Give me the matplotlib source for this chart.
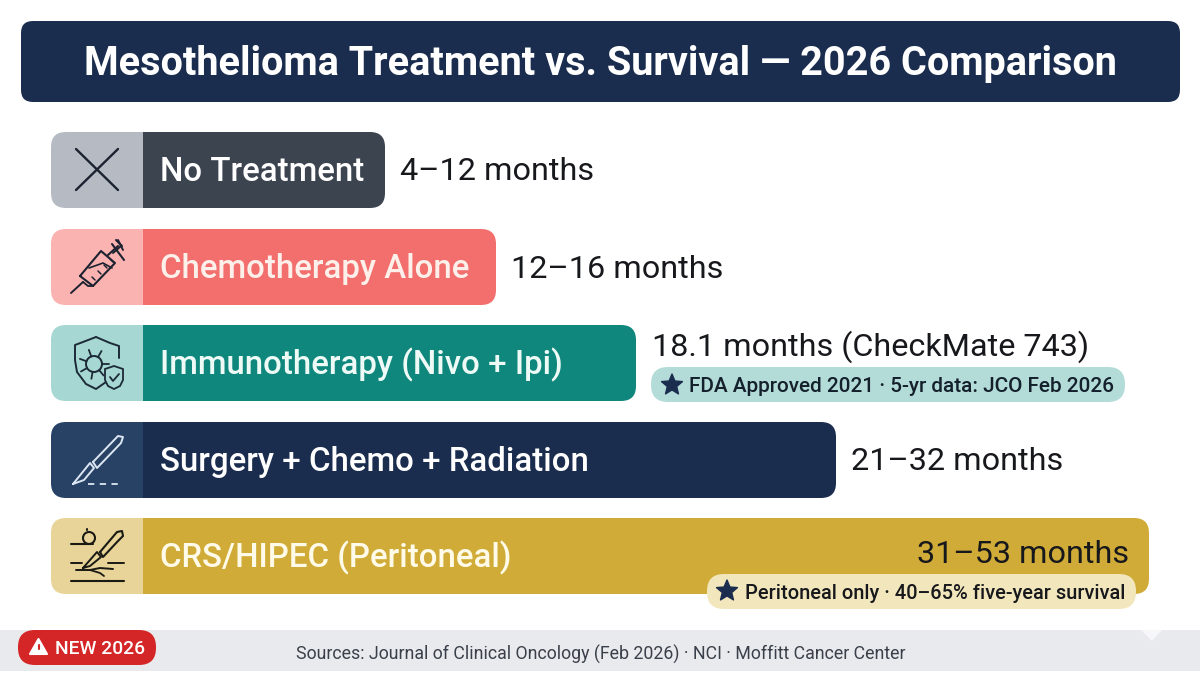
import numpy as np
import matplotlib
matplotlib.use('Agg')
import matplotlib.pyplot as plt
from matplotlib.patches import FancyBboxPatch, Rectangle, Polygon, Circle

plt.rcParams['font.family'] = ['Roboto', 'DejaVu Sans']

# treatment rows, top to bottom
treatments = ['No Treatment', 'Chemotherapy Alone', 'Immunotherapy (Nivo + Ipi)',
              'Surgery + Chemo + Radiation', 'CRS/HIPEC (Peritoneal)']
survival = ['4–12 months', '12–16 months', '18.1 months (CheckMate 743)', '21–32 months', '31–53 months']
bar_lengths = [334, 445, 585, 785, 1098]
bar_colors = ['#3c4450', '#f26f6d', '#0f877c', '#1b2d4f', '#d0ab38']
icon_colors = ['#b6bbc3', '#fbb3b1', '#a6d7d2', '#284265', '#e8d498']
label_colors = ['white', '#fdf0ea', '#eefaf6', 'white', '#fffbe8']
icon_ink = ['#1c2230', '#1c2230', '#1c2a38', '#dbe6f2', '#1a1a14']

title = 'Mesothelioma Treatment vs. Survival — 2026 Comparison'
note_imm = 'FDA Approved 2021 · 5-yr data: JCO Feb 2026'
note_crs = 'Peritoneal only · 40–65% five-year survival'
badge = 'NEW 2026'
sources = 'Sources: Journal of Clinical Oncology (Feb 2026) · NCI · Moffitt Cancer Center'

NAVY = '#1b2d4f'

fig = plt.figure(figsize=(12, 6.75), dpi=100, facecolor='white')
ax = fig.add_axes([0, 0, 1, 1])
ax.set_xlim(0, 1200)
ax.set_ylim(675, 0)
ax.axis('off')


def rbox(x0, y0, x1, y1, r, color, z=2):
    p = FancyBboxPatch((x0 + r, y0 + r), x1 - x0 - 2 * r, y1 - y0 - 2 * r,
                       boxstyle='round,pad=%g,rounding_size=%g' % (r, r),
                       fc=color, ec='none', zorder=z)
    ax.add_patch(p)
    return p


def ink(xs, ys, color, lw=1.6, z=6, **kw):
    ax.plot(xs, ys, color=color, lw=lw, zorder=z, solid_capstyle='round',
            solid_joinstyle='round', **kw)


def star(cx, cy, r, color=NAVY):
    ang = np.deg2rad(-90 + 36 * np.arange(10))
    rad = np.where(np.arange(10) % 2 == 0, r, r * 0.45)
    ax.add_patch(Polygon(np.c_[cx + rad * np.cos(ang), cy + rad * np.sin(ang)],
                         closed=True, fc=color, ec=color, lw=1, joinstyle='round', zorder=8))


def icon_cross(c):
    ink([76, 118], [149, 190], c, 1.7)
    ink([118, 76], [149, 190], c, 1.7)


def icon_syringe(c):
    ink([71, 83], [293, 282], c, 1.4)
    # barrel
    ink([80, 101, 115, 93, 80], [276, 251, 263, 286, 276], c, 1.5)
    ink([83, 88, 93], [282, 286, 286], c, 1.3)
    ink([89, 103, 112], [268, 263, 268], c, 1.2)
    for t in range(4):
        ink([92 + 6 * t, 95 + 6 * t], [277 - 6 * t, 280 - 6 * t], c, 1.1)
    # plunger
    ink([108, 118], [255, 246], c, 1.5)
    ink([112, 124], [244, 260], c, 1.5)
    ink([116, 122], [240, 246], c, 1.5)
    ink([118, 123], [240, 250], c, 1.4)
    ink([113, 121], [253, 246], c, 1.4)


def icon_shield(c):
    xs = [96, 110, 119, 119, 116, 106, 96, 86, 77, 75, 75, 83, 96]
    ys = [337, 343, 346, 358, 371, 382, 389, 384, 372, 360, 345, 342, 337]
    ink(xs[:4], ys[:4], c, 1.4)
    ink(xs[5:], ys[5:], c, 1.4)
    # virus
    ax.add_patch(Circle((94, 364), 8, fc='none', ec=c, lw=1.4, zorder=6))
    for a in np.deg2rad([0, 50, 100, 150, 200, 250, 300]):
        ink([94 + 8 * np.cos(a), 94 + 15 * np.cos(a)], [364 + 8 * np.sin(a), 364 + 15 * np.sin(a)], c, 1.3)
    # small shield with tick
    sx = [114, 123, 123, 120, 114, 108, 105, 105, 114]
    sy = [366, 369, 380, 386, 389, 386, 380, 369, 366]
    ax.add_patch(Polygon(np.c_[sx, sy], closed=True, fc=icon_colors[2], ec=c, lw=1.3, zorder=7))
    ink([110, 113, 119], [377, 381, 374], c, 1.3, z=8)


def icon_scalpel(c):
    ink([73, 90, 94, 84, 73], [484, 463, 468, 480, 484], c, 1.4)
    ink([93, 118, 123, 121, 97, 93], [462, 436, 437, 443, 468, 462], c, 1.4)
    ink([88, 120], [484, 484], c, 1.3, linestyle=(0, (3.5, 3)))


def icon_crs(c):
    ink([71, 93], [544, 544], c, 1.5)
    ax.add_patch(Circle((89, 538), 6, fc='none', ec=c, lw=1.5, zorder=6))
    ink([87, 87], [530, 529], c, 1.5)
    ink([71, 82], [563, 563], c, 1.4)
    ink([108, 124], [563, 563], c, 1.4)
    ink([71, 124], [581, 581], c, 1.5)
    ink([76, 90, 100, 113], [570, 570, 568, 569], c, 1.4)
    ink([90, 100, 104], [570, 573, 576], c, 1.3)
    # blade and handle
    ink([83, 97, 101, 90, 83], [568, 552, 557, 566, 568], c, 1.4)
    ink([100, 117, 122, 123, 118, 103, 100], [552, 532, 531, 536, 541, 557, 552], c, 1.5)


icons = [icon_cross, icon_syringe, icon_shield, icon_scalpel, icon_crs]

# header
rbox(21, 21, 1180, 102, 12, NAVY)
ax.text(600, 64, title, ha='center', va='center', color='white', fontsize=28.5, fontweight='bold')

# footer
ax.add_patch(Rectangle((0, 630), 1200, 41, fc='#e9eaee', ec='none', zorder=1))
ax.add_patch(Polygon([[1141, 630], [1162, 630], [1152, 641]], closed=True, fc='#f7f7f9', ec='none', zorder=1.5))
rbox(18, 630, 156, 665, 17, '#d42527', z=3)
ax.add_patch(Polygon([[30, 654], [47, 654], [38.5, 639]], closed=True, fc='white', ec='white', lw=1.5, joinstyle='round', zorder=4))
ink([38.5, 38.5], [645, 649], '#d42527', 1.5)
ink([38.5, 38.5], [651.5, 651.6], '#d42527', 1.5)
ax.text(55, 649, badge, ha='left', va='center', color='white', fontsize=13.9, fontweight='medium', zorder=4)
ax.text(296, 654, sources, ha='left', va='center', color='#3a404a', fontsize=12.78)

# bars, top to bottom; the icon panel sits under the left end of each bar
x0 = 51
panel_w = 92
tops = [132, 229, 325, 422, 518]
h = 76
label_x = 160
for i, name in enumerate(treatments):
    y0 = tops[i]
    rbox(x0, y0, x0 + panel_w + 14, y0 + h, 15, icon_colors[i], z=2)
    rbox(x0 + panel_w - 30, y0, x0 + bar_lengths[i], y0 + h, 15, bar_colors[i], z=2.5)
    ax.add_patch(Rectangle((x0 + 40, y0), panel_w - 40, h, fc=icon_colors[i], ec='none', zorder=3))
    icons[i](icon_ink[i])
    ax.text(label_x, y0 + h / 2 + 2, name, ha='left', va='center', color=label_colors[i],
            fontsize=23.8, fontweight='medium', zorder=5)

# survival labels beside the bars
for i in [0, 1, 3]:
    ax.text(x0 + bar_lengths[i] + 15, tops[i] + h / 2 + 2, survival[i], ha='left', va='center',
            color='#17181c', fontsize=23.3, zorder=5)
ax.text(652, 346.5, survival[2], ha='left', va='center', color='#17181c', fontsize=23.3, zorder=5)
ax.text(1129, 554.5, survival[4], ha='right', va='center', color='#17181c', fontsize=23.3, zorder=5)

# note pills
rbox(651, 367, 1125, 402, 17, '#b3dcd8', z=4)
star(672, 385, 11)
ax.text(689, 386.5, note_imm, ha='left', va='center', color='#14202c', fontsize=14.95, fontweight='medium', zorder=8)
rbox(707, 574, 1136, 609, 17, '#f2e6bd', z=4)
star(727, 591, 11)
ax.text(745, 593.5, note_crs, ha='left', va='center', color='#17181c', fontsize=14.4, fontweight='medium', zorder=8)

fig.savefig('out.png', dpi=100, facecolor='white')
